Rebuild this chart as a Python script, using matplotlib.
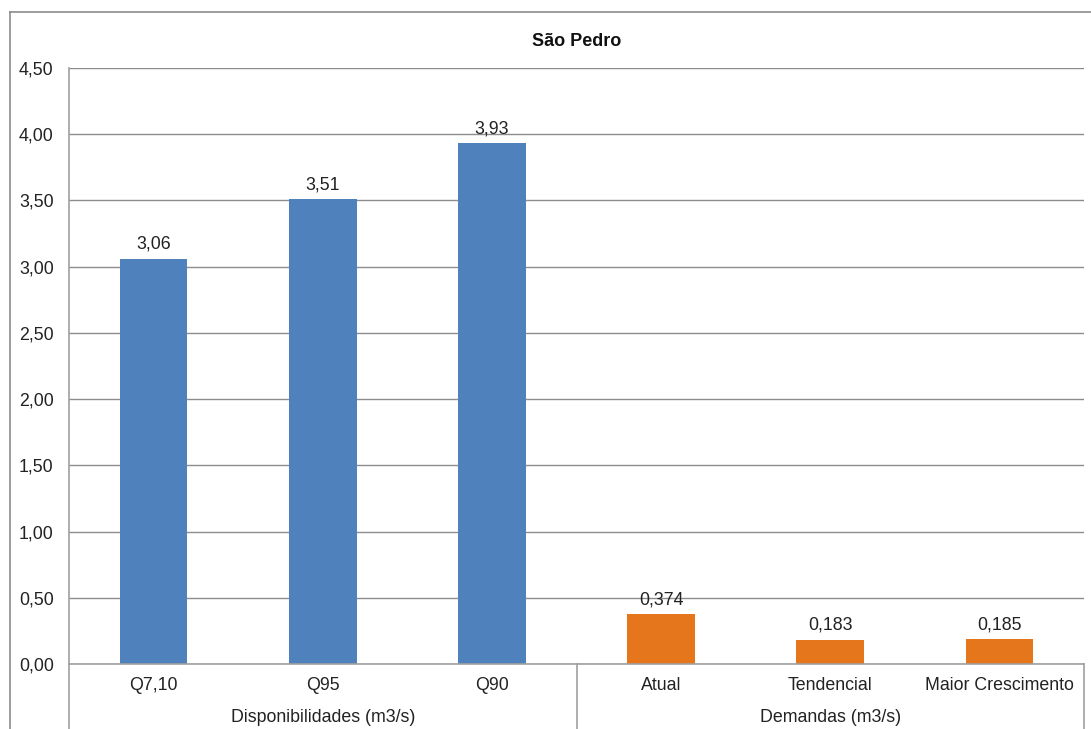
import matplotlib
matplotlib.use("Agg")
import matplotlib.pyplot as plt
from matplotlib.lines import Line2D

plt.rcParams['font.family'] = ['Liberation Sans', 'DejaVu Sans']

categories = ["Q7,10", "Q95", "Q90", "Atual", "Tendencial", "Maior Crescimento"]
values = [3.06, 3.51, 3.93, 0.374, 0.183, 0.185]
value_labels = ["3,06", "3,51", "3,93", "0,374", "0,183", "0,185"]
groups = ["Disponibilidades (m3/s)", "Demandas (m3/s)"]
group_sizes = [3, 3]
y_ticks = [0.0, 0.5, 1.0, 1.5, 2.0, 2.5, 3.0, 3.5, 4.0, 4.5]
y_tick_labels = ["0,00", "0,50", "1,00", "1,50", "2,00", "2,50", "3,00", "3,50", "4,00", "4,50"]
title = "São Pedro"

W, H = 1091, 729
fig = plt.figure(figsize=(W / 100, H / 100), dpi=100)

# plot area in pixels
x0, x1 = 69, 1084
y_top, y_bot = 68, 664
ax = fig.add_axes([x0 / W, 1 - y_bot / H, (x1 - x0) / W, (y_bot - y_top) / H])

FS = 12.8
blue = "#4F81BD"
orange = "#E5761C"
colors = [blue] * group_sizes[0] + [orange] * group_sizes[1]
xs = list(range(len(categories)))
ax.bar(xs, values, width=0.4, color=colors, zorder=3)
ax.set_xlim(-0.5, len(categories) - 0.5)
ax.set_ylim(0, 4.5)
ax.set_yticks(y_ticks)
ax.set_yticklabels(y_tick_labels, fontsize=FS, color="#222222")
ax.tick_params(axis='y', length=0, pad=11)
ax.set_xticks([])
ax.grid(axis='y', color="#8c8c8c", linewidth=1, zorder=0)
for s in ["top", "right", "bottom"]:
    ax.spines[s].set_visible(False)
ax.spines["left"].set_color("#a0a0a0")
ax.spines["left"].set_linewidth(1.2)

for x, v, lab in zip(xs, values, value_labels):
    ax.annotate(lab, (x, v), xytext=(0, 6), textcoords="offset pixels",
                ha="center", va="bottom", fontsize=FS, color="#222222")

# category labels and group labels below the axis
for x, c in zip(xs, categories):
    ax.annotate(c, (x, 0), xytext=(0, -22), textcoords="offset pixels",
                ha="center", va="center", fontsize=FS, color="#222222",
                annotation_clip=False)

start = 0
for g, n in zip(groups, group_sizes):
    cx = start + (n - 1) / 2
    ax.annotate(g, (cx, 0), xytext=(0, -53), textcoords="offset pixels",
                ha="center", va="center", fontsize=FS, color="#222222",
                annotation_clip=False)
    start += n

# axis line and group separators
sep_color = "#a0a0a0"
fig.add_artist(Line2D([x0 / W, x1 / W], [1 - y_bot / H] * 2,
                      transform=fig.transFigure, color=sep_color, lw=1.2))
for px in [x0, 577, x1]:
    fig.add_artist(Line2D([px / W, px / W], [0, 1 - y_bot / H],
                          transform=fig.transFigure, color=sep_color, lw=1.2))

# title
fig.text((x0 + x1) / 2 / W, 1 - 41 / H, title, ha="center", va="center",
         fontsize=13, fontweight="bold", color="#111111")

# outer chart border
fig.add_artist(Line2D([10 / W, 10 / W], [0, 1 - 12 / H], transform=fig.transFigure,
                      color="#8c8c8c", lw=1.2))
fig.add_artist(Line2D([10 / W, 1], [1 - 12 / H, 1 - 12 / H], transform=fig.transFigure,
                      color="#8c8c8c", lw=1.2))

fig.savefig("out.png", dpi=100)
